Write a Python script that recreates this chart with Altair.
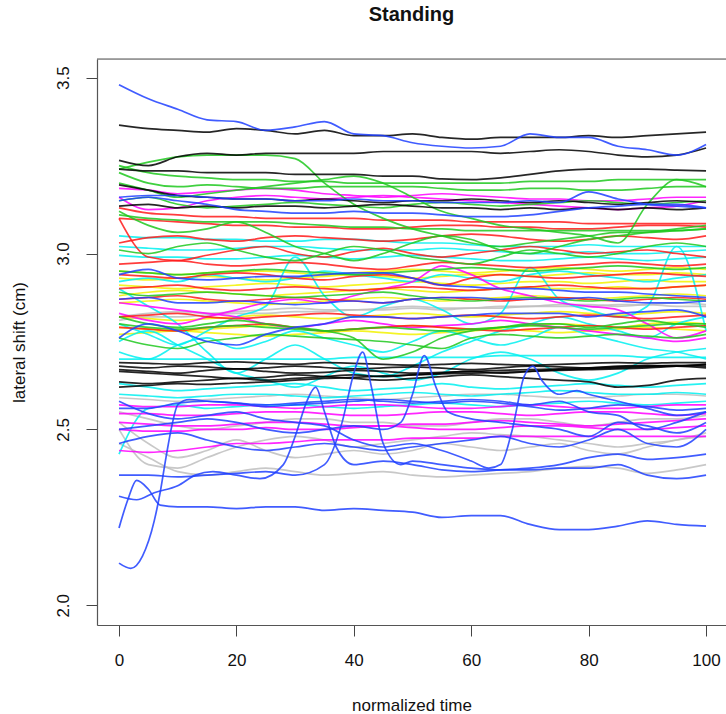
import altair as alt
import pandas as pd

# x positions (normalized time) shared by most traces
T_GRID = [0, 5, 10, 15, 20, 25, 30, 35, 40, 45, 50, 55, 60, 65, 70, 75, 80, 85, 90, 95, 100]

# ---- traces (lateral shift in cm), grouped by colour ----
GRAY = [
    [2.82, 2.83, 2.835, 2.83, 2.835, 2.84, 2.845, 2.84, 2.84, 2.845, 2.85, 2.845, 2.845, 2.85, 2.85, 2.855, 2.855, 2.85, 2.855, 2.86, 2.855],
    [2.81, 2.82, 2.82, 2.825, 2.83, 2.83, 2.835, 2.835, 2.84, 2.84, 2.845, 2.84, 2.845, 2.845, 2.85, 2.85, 2.85, 2.855, 2.855, 2.85, 2.85],
    [2.59, 2.585, 2.58, 2.585, 2.59, 2.595, 2.6, 2.595, 2.59, 2.585, 2.59, 2.595, 2.6, 2.6, 2.595, 2.59, 2.59, 2.595, 2.6, 2.6, 2.595],
    [2.50, 2.40, 2.39, 2.42, 2.45, 2.47, 2.48, 2.47, 2.45, 2.46, 2.47, 2.48, 2.49, 2.485, 2.48, 2.47, 2.46, 2.45, 2.46, 2.47, 2.49],
    [2.46, 2.42, 2.38, 2.37, 2.38, 2.39, 2.38, 2.37, 2.375, 2.38, 2.37, 2.365, 2.37, 2.375, 2.38, 2.39, 2.395, 2.39, 2.375, 2.385, 2.40],
    [2.55, 2.53, 2.51, 2.50, 2.51, 2.52, 2.53, 2.53, 2.52, 2.52, 2.51, 2.51, 2.52, 2.53, 2.53, 2.52, 2.51, 2.52, 2.53, 2.53, 2.54],
    [2.52, 2.46, 2.42, 2.44, 2.47, 2.44, 2.42, 2.43, 2.44, 2.43, 2.44, 2.46, 2.45, 2.44, 2.45, 2.46, 2.44, 2.43, 2.45, 2.47, 2.48],
]
YELLOW = [
    [2.95, 2.945, 2.94, 2.945, 2.95, 2.95, 2.945, 2.94, 2.945, 2.95, 2.955, 2.95, 2.945, 2.95, 2.955, 2.96, 2.955, 2.95, 2.955, 2.96, 2.955],
    [2.93, 2.925, 2.93, 2.935, 2.93, 2.925, 2.93, 2.935, 2.94, 2.935, 2.93, 2.935, 2.94, 2.94, 2.935, 2.94, 2.945, 2.94, 2.94, 2.945, 2.94],
    [2.91, 2.905, 2.90, 2.905, 2.91, 2.915, 2.91, 2.905, 2.91, 2.915, 2.92, 2.915, 2.91, 2.915, 2.92, 2.92, 2.915, 2.92, 2.925, 2.92, 2.92],
    [2.88, 2.89, 2.895, 2.89, 2.885, 2.88, 2.885, 2.89, 2.895, 2.90, 2.895, 2.89, 2.895, 2.90, 2.905, 2.90, 2.90, 2.905, 2.90, 2.905, 2.91],
    [2.86, 2.865, 2.87, 2.865, 2.86, 2.855, 2.86, 2.865, 2.87, 2.875, 2.87, 2.865, 2.87, 2.875, 2.88, 2.875, 2.87, 2.875, 2.88, 2.885, 2.88],
    [2.82, 2.815, 2.81, 2.815, 2.82, 2.825, 2.82, 2.815, 2.82, 2.825, 2.83, 2.825, 2.82, 2.825, 2.83, 2.835, 2.83, 2.825, 2.83, 2.835, 2.83],
    [2.79, 2.785, 2.78, 2.785, 2.79, 2.795, 2.79, 2.78, 2.785, 2.79, 2.795, 2.79, 2.785, 2.79, 2.795, 2.80, 2.795, 2.79, 2.80, 2.805, 2.80],
    [2.77, 2.775, 2.78, 2.775, 2.77, 2.765, 2.77, 2.775, 2.78, 2.775, 2.77, 2.775, 2.78, 2.785, 2.78, 2.775, 2.78, 2.785, 2.79, 2.785, 2.78],
]
CYAN = [
    [3.05, 3.045, 3.045, 3.04, 3.04, 3.035, 3.035, 3.04, 3.04, 3.035, 3.03, 3.03, 3.025, 3.02, 3.02, 3.02, 3.025, 3.02, 3.02, 3.02, 3.02],
    [3.02, 3.015, 3.01, 3.01, 3.015, 3.02, 3.02, 3.015, 3.01, 3.01, 3.01, 3.015, 3.01, 3.005, 3.0, 3.0, 3.005, 3.0, 3.0, 3.005, 3.01],
    [2.995, 2.99, 2.99, 2.985, 2.985, 2.99, 2.995, 2.99, 2.985, 2.99, 2.995, 2.99, 2.985, 2.98, 2.98, 2.985, 2.99, 2.985, 2.98, 2.985, 2.99],
    [2.80, 2.77, 2.74, 2.78, 2.82, 2.85, 2.99, 2.88, 2.82, 2.85, 2.87, 2.84, 2.80, 2.83, 2.96, 2.87, 2.84, 2.82, 2.85, 3.02, 2.78],
    [2.72, 2.70, 2.74, 2.76, 2.73, 2.75, 2.78, 2.76, 2.74, 2.72, 2.75, 2.78, 2.76, 2.74, 2.76, 2.79, 2.77, 2.75, 2.73, 2.72, 2.70],
    [2.70, 2.70, 2.70, 2.70, 2.70, 2.70, 2.70, 2.70, 2.705, 2.705, 2.705, 2.705, 2.705, 2.71, 2.71, 2.71, 2.71, 2.71, 2.705, 2.705, 2.705],
    [2.63, 2.62, 2.61, 2.615, 2.62, 2.625, 2.63, 2.62, 2.61, 2.615, 2.62, 2.63, 2.62, 2.615, 2.62, 2.625, 2.63, 2.625, 2.62, 2.625, 2.63],
    [2.60, 2.595, 2.59, 2.595, 2.6, 2.6, 2.595, 2.59, 2.595, 2.6, 2.605, 2.6, 2.595, 2.6, 2.605, 2.61, 2.605, 2.6, 2.6, 2.605, 2.60],
    [2.43, 2.56, 2.57, 2.56, 2.565, 2.57, 2.57, 2.565, 2.56, 2.565, 2.57, 2.575, 2.57, 2.565, 2.57, 2.575, 2.58, 2.575, 2.57, 2.575, 2.58],
    [2.90, 2.85, 2.80, 2.72, 2.66, 2.70, 2.74, 2.70, 2.66, 2.65, 2.68, 2.72, 2.75, 2.78, 2.80, 2.82, 2.80, 2.78, 2.76, 2.80, 2.82],
    [2.75, 2.78, 2.74, 2.70, 2.66, 2.64, 2.62, 2.65, 2.68, 2.66, 2.64, 2.66, 2.70, 2.72, 2.70, 2.66, 2.64, 2.66, 2.70, 2.72, 2.73],
    [2.92, 2.93, 2.92, 2.94, 2.93, 2.92, 2.93, 2.95, 2.94, 2.93, 2.92, 2.94, 2.93, 2.92, 2.94, 2.95, 2.94, 2.93, 2.92, 2.93, 2.94],
]
MAGENTA = [
    [3.185, 3.18, 3.17, 3.175, 3.18, 3.185, 3.18, 3.17, 3.165, 3.16, 3.165, 3.17, 3.165, 3.16, 3.155, 3.155, 3.15, 3.15, 3.155, 3.16, 3.16],
    [3.16, 3.125, 3.13, 3.15, 3.16, 3.165, 3.16, 3.155, 3.16, 3.165, 3.16, 3.155, 3.15, 3.145, 3.14, 3.135, 3.13, 3.125, 3.13, 3.135, 3.15],
    [2.83, 2.81, 2.80, 2.82, 2.84, 2.86, 2.87, 2.86, 2.88, 2.90, 2.92, 2.965, 2.94, 2.90, 2.88, 2.86, 2.85, 2.84, 2.80, 2.76, 2.78],
    [2.86, 2.85, 2.84, 2.83, 2.82, 2.80, 2.79, 2.80, 2.81, 2.80, 2.79, 2.795, 2.80, 2.81, 2.80, 2.79, 2.78, 2.77, 2.76, 2.75, 2.76],
    [2.57, 2.565, 2.565, 2.57, 2.57, 2.565, 2.56, 2.565, 2.57, 2.57, 2.565, 2.56, 2.56, 2.565, 2.57, 2.565, 2.56, 2.56, 2.565, 2.57, 2.57],
    [2.545, 2.545, 2.54, 2.54, 2.545, 2.55, 2.55, 2.545, 2.54, 2.54, 2.545, 2.55, 2.55, 2.545, 2.54, 2.545, 2.55, 2.55, 2.545, 2.54, 2.545],
    [2.52, 2.515, 2.51, 2.51, 2.515, 2.52, 2.52, 2.515, 2.51, 2.51, 2.515, 2.515, 2.52, 2.525, 2.52, 2.515, 2.51, 2.515, 2.52, 2.525, 2.53],
    [2.44, 2.435, 2.44, 2.45, 2.46, 2.46, 2.465, 2.47, 2.47, 2.47, 2.475, 2.475, 2.475, 2.48, 2.48, 2.48, 2.48, 2.48, 2.48, 2.48, 2.48],
    [2.50, 2.495, 2.495, 2.50, 2.50, 2.505, 2.50, 2.50, 2.505, 2.51, 2.505, 2.50, 2.50, 2.505, 2.51, 2.51, 2.505, 2.50, 2.50, 2.505, 2.51],
]
RED = [
    [3.13, 3.115, 3.11, 3.105, 3.105, 3.10, 3.10, 3.10, 3.10, 3.095, 3.095, 3.095, 3.09, 3.09, 3.09, 3.09, 3.085, 3.085, 3.085, 3.085, 3.085],
    [3.10, 3.095, 3.09, 3.085, 3.08, 3.08, 3.075, 3.075, 3.07, 3.07, 3.075, 3.08, 3.08, 3.075, 3.075, 3.07, 3.07, 3.075, 3.08, 3.08, 3.075],
    [3.03, 3.045, 3.05, 3.04, 3.035, 3.045, 3.05, 3.045, 3.04, 3.035, 3.04, 3.05, 3.055, 3.05, 3.04, 3.035, 3.04, 3.05, 3.045, 3.04, 3.05],
    [3.10, 2.99, 2.98, 2.995, 3.01, 3.02, 3.0, 2.99, 3.005, 3.015, 3.0, 2.99, 3.0, 3.01, 3.02, 3.01, 3.0, 3.005, 3.01, 3.0, 2.99],
    [2.97, 2.975, 2.98, 2.97, 2.965, 2.97, 2.975, 2.97, 2.96, 2.955, 2.965, 2.975, 2.97, 2.965, 2.96, 2.965, 2.97, 2.975, 2.97, 2.965, 2.97],
    [2.94, 2.935, 2.93, 2.94, 2.945, 2.94, 2.93, 2.925, 2.935, 2.94, 2.93, 2.91, 2.93, 2.94, 2.935, 2.93, 2.935, 2.94, 2.945, 2.94, 2.935],
    [2.90, 2.905, 2.91, 2.90, 2.895, 2.90, 2.905, 2.90, 2.895, 2.90, 2.905, 2.90, 2.895, 2.90, 2.905, 2.91, 2.905, 2.90, 2.90, 2.905, 2.91],
    [2.87, 2.875, 2.88, 2.87, 2.865, 2.87, 2.875, 2.87, 2.865, 2.86, 2.87, 2.875, 2.87, 2.865, 2.87, 2.875, 2.87, 2.865, 2.87, 2.875, 2.87],
    [2.82, 2.825, 2.83, 2.82, 2.815, 2.82, 2.825, 2.83, 2.825, 2.82, 2.815, 2.82, 2.825, 2.82, 2.815, 2.82, 2.825, 2.82, 2.815, 2.82, 2.825],
    [2.79, 2.785, 2.78, 2.79, 2.795, 2.80, 2.79, 2.78, 2.785, 2.79, 2.795, 2.79, 2.785, 2.78, 2.785, 2.79, 2.795, 2.79, 2.785, 2.79, 2.795],
]
GREEN = [
    [3.24, 3.26, 3.275, 3.28, 3.28, 3.28, 3.27, 3.20, 3.14, 3.10, 3.07, 3.05, 3.03, 3.02, 3.03, 3.04, 3.05, 3.06, 3.06, 3.065, 3.07],
    [3.25, 3.23, 3.22, 3.215, 3.21, 3.21, 3.205, 3.205, 3.20, 3.20, 3.20, 3.20, 3.20, 3.20, 3.205, 3.205, 3.205, 3.21, 3.21, 3.21, 3.21],
    [3.23, 3.20, 3.19, 3.195, 3.19, 3.185, 3.185, 3.19, 3.19, 3.19, 3.19, 3.185, 3.18, 3.18, 3.185, 3.185, 3.18, 3.18, 3.185, 3.19, 3.19],
    [3.20, 3.18, 3.16, 3.17, 3.18, 3.19, 3.20, 3.21, 3.22, 3.20, 3.16, 3.12, 3.10, 3.08, 3.07, 3.06, 3.05, 3.03, 3.14, 3.21, 3.19],
    [3.15, 3.16, 3.14, 3.13, 3.135, 3.14, 3.145, 3.14, 3.135, 3.13, 3.14, 3.145, 3.14, 3.135, 3.14, 3.145, 3.15, 3.145, 3.14, 3.145, 3.15],
    [3.11, 3.10, 3.095, 3.09, 3.09, 3.09, 3.085, 3.08, 3.075, 3.075, 3.07, 3.07, 3.065, 3.065, 3.065, 3.065, 3.065, 3.065, 3.065, 3.065, 3.07],
    [3.12, 3.08, 3.06, 3.07, 3.09, 3.06, 3.02, 3.0, 2.98, 3.0, 3.03, 3.05, 3.04, 3.01, 3.0, 3.02, 3.04, 3.05, 3.06, 3.07, 3.08],
    [3.01, 3.0, 3.02, 3.03, 3.01, 2.99, 2.98, 3.0, 3.02, 3.01, 2.99, 2.98, 2.97, 2.99, 3.01, 3.0, 2.99, 3.0, 3.02, 3.03, 3.02],
    [2.95, 2.945, 2.94, 2.945, 2.95, 2.955, 2.95, 2.945, 2.94, 2.945, 2.95, 2.955, 2.96, 2.955, 2.95, 2.955, 2.96, 2.965, 2.96, 2.955, 2.96],
    [2.89, 2.88, 2.885, 2.89, 2.885, 2.88, 2.875, 2.88, 2.885, 2.89, 2.88, 2.87, 2.865, 2.87, 2.875, 2.87, 2.865, 2.87, 2.875, 2.87, 2.865],
    [2.80, 2.79, 2.785, 2.79, 2.795, 2.79, 2.785, 2.78, 2.785, 2.79, 2.785, 2.78, 2.785, 2.79, 2.795, 2.79, 2.785, 2.79, 2.795, 2.80, 2.79],
    [2.76, 2.74, 2.73, 2.75, 2.76, 2.77, 2.765, 2.76, 2.755, 2.75, 2.74, 2.73, 2.76, 2.77, 2.765, 2.76, 2.765, 2.77, 2.765, 2.76, 2.77],
    [2.82, 2.80, 2.79, 2.80, 2.81, 2.80, 2.79, 2.78, 2.76, 2.70, 2.72, 2.76, 2.78, 2.79, 2.80, 2.80, 2.79, 2.80, 2.81, 2.80, 2.80],
]
BLACK = [
    [3.365, 3.355, 3.35, 3.345, 3.355, 3.35, 3.34, 3.35, 3.335, 3.335, 3.34, 3.33, 3.325, 3.33, 3.33, 3.33, 3.335, 3.33, 3.335, 3.34, 3.345],
    [3.265, 3.25, 3.275, 3.285, 3.28, 3.285, 3.285, 3.285, 3.285, 3.29, 3.29, 3.29, 3.29, 3.285, 3.29, 3.295, 3.29, 3.28, 3.275, 3.28, 3.30],
    [3.24, 3.235, 3.235, 3.23, 3.23, 3.23, 3.225, 3.225, 3.225, 3.22, 3.22, 3.212, 3.21, 3.215, 3.225, 3.235, 3.24, 3.24, 3.24, 3.237, 3.235],
    [3.195, 3.18, 3.165, 3.16, 3.155, 3.155, 3.15, 3.155, 3.15, 3.145, 3.15, 3.15, 3.155, 3.15, 3.145, 3.15, 3.145, 3.14, 3.145, 3.15, 3.145],
    [3.135, 3.14, 3.13, 3.135, 3.13, 3.135, 3.135, 3.13, 3.135, 3.14, 3.135, 3.13, 3.13, 3.125, 3.13, 3.125, 3.13, 3.125, 3.13, 3.125, 3.13],
    [2.69, 2.688, 2.685, 2.69, 2.692, 2.688, 2.685, 2.69, 2.688, 2.685, 2.683, 2.685, 2.688, 2.685, 2.683, 2.685, 2.688, 2.69, 2.688, 2.69, 2.69],
    [2.68, 2.675, 2.68, 2.678, 2.672, 2.675, 2.68, 2.676, 2.672, 2.675, 2.678, 2.674, 2.67, 2.675, 2.68, 2.678, 2.675, 2.68, 2.682, 2.68, 2.685],
    [2.67, 2.665, 2.66, 2.668, 2.672, 2.665, 2.66, 2.662, 2.668, 2.665, 2.66, 2.662, 2.665, 2.668, 2.67, 2.672, 2.675, 2.678, 2.68, 2.682, 2.68],
    [2.665, 2.66, 2.655, 2.65, 2.645, 2.648, 2.655, 2.65, 2.645, 2.64, 2.645, 2.65, 2.655, 2.65, 2.645, 2.64, 2.635, 2.62, 2.625, 2.64, 2.645],
    [2.635, 2.63, 2.635, 2.64, 2.645, 2.64, 2.645, 2.65, 2.655, 2.65, 2.655, 2.66, 2.665, 2.66, 2.665, 2.67, 2.672, 2.675, 2.678, 2.68, 2.675],
    [2.62, 2.625, 2.63, 2.628, 2.632, 2.635, 2.64, 2.645, 2.648, 2.652, 2.655, 2.658, 2.66, 2.662, 2.665, 2.668, 2.67, 2.672, 2.675, 2.68, 2.685],
]
BLUE = [
    [3.48, 3.44, 3.41, 3.38, 3.375, 3.35, 3.36, 3.375, 3.34, 3.335, 3.315, 3.305, 3.30, 3.305, 3.34, 3.33, 3.33, 3.305, 3.295, 3.28, 3.31],
    [3.16, 3.165, 3.165, 3.16, 3.155, 3.155, 3.15, 3.15, 3.155, 3.15, 3.15, 3.145, 3.145, 3.145, 3.15, 3.145, 3.175, 3.155, 3.14, 3.135, 3.13],
    [3.15, 3.16, 3.15, 3.14, 3.125, 3.12, 3.115, 3.115, 3.12, 3.115, 3.115, 3.11, 3.105, 3.105, 3.11, 3.12, 3.13, 3.135, 3.14, 3.14, 3.13],
    [2.94, 2.955, 2.93, 2.925, 2.93, 2.935, 2.935, 2.94, 2.945, 2.945, 2.93, 2.91, 2.905, 2.90, 2.90, 2.895, 2.89, 2.89, 2.885, 2.88, 2.875],
    [2.87, 2.875, 2.86, 2.86, 2.865, 2.86, 2.855, 2.86, 2.865, 2.86, 2.87, 2.875, 2.875, 2.87, 2.87, 2.87, 2.875, 2.865, 2.86, 2.86, 2.865],
    [2.76, 2.80, 2.78, 2.75, 2.74, 2.77, 2.79, 2.80, 2.82, 2.82, 2.815, 2.82, 2.825, 2.83, 2.83, 2.83, 2.82, 2.83, 2.835, 2.84, 2.82],
    [2.56, 2.56, 2.575, 2.58, 2.575, 2.57, 2.575, 2.58, 2.585, 2.58, 2.575, 2.58, 2.585, 2.58, 2.57, 2.58, 2.55, 2.54, 2.50, 2.52, 2.55],
    [2.46, 2.48, 2.49, 2.47, 2.45, 2.44, 2.45, 2.46, 2.45, 2.44, 2.45, 2.46, 2.47, 2.48, 2.46, 2.45, 2.47, 2.50, 2.46, 2.45, 2.50],
]
# wiggly blue traces in the lower part, each with its own time points
BLUE_LOW_T = [
    [0, 2, 4, 6, 7, 8, 9, 10, 12, 15, 20, 25, 30, 35, 40, 45, 50, 55, 60, 65, 70, 75, 80, 85, 90, 95, 100],
    [0, 1.5, 3, 5, 7, 10, 15, 20, 25, 30, 35, 40, 45, 50, 55, 60, 65, 70, 75, 80, 85, 90, 95, 100],
    [0, 3, 6, 10, 13, 16, 20, 24, 28, 30, 32, 33.5, 35, 37, 40, 45, 50, 55, 60, 65, 70, 75, 80, 85, 90, 95, 100],
    [0, 5, 10, 15, 20, 25, 30, 35, 38, 40, 41.5, 43, 45, 48, 50, 55, 60, 65, 70, 75, 80, 85, 90, 95, 100],
    [0, 5, 10, 15, 20, 25, 30, 35, 40, 45, 48, 50, 52, 54, 56, 60, 65, 70, 75, 80, 85, 90, 95, 100],
    [0, 5, 10, 15, 20, 25, 30, 35, 40, 45, 50, 55, 60, 63, 65, 67, 69, 70.5, 72, 75, 78, 80, 85, 90, 95, 100],
]
BLUE_LOW_V = [
    [2.12, 2.105, 2.14, 2.24, 2.32, 2.42, 2.51, 2.57, 2.585, 2.58, 2.575, 2.565, 2.57, 2.575, 2.58, 2.585, 2.58, 2.575, 2.58, 2.575, 2.565, 2.555, 2.56, 2.57, 2.565, 2.555, 2.56],
    [2.22, 2.30, 2.355, 2.33, 2.285, 2.28, 2.28, 2.275, 2.28, 2.28, 2.27, 2.275, 2.27, 2.265, 2.25, 2.255, 2.255, 2.23, 2.215, 2.215, 2.225, 2.24, 2.23, 2.225],
    [2.31, 2.30, 2.32, 2.34, 2.37, 2.38, 2.37, 2.36, 2.40, 2.48, 2.58, 2.62, 2.55, 2.45, 2.40, 2.41, 2.40, 2.385, 2.38, 2.385, 2.39, 2.40, 2.42, 2.43, 2.415, 2.42, 2.43],
    [2.37, 2.37, 2.365, 2.37, 2.375, 2.38, 2.37, 2.40, 2.52, 2.66, 2.72, 2.62, 2.46, 2.40, 2.41, 2.40, 2.39, 2.385, 2.385, 2.39, 2.39, 2.40, 2.37, 2.36, 2.37],
    [2.50, 2.51, 2.52, 2.53, 2.52, 2.50, 2.49, 2.50, 2.51, 2.50, 2.52, 2.60, 2.71, 2.62, 2.55, 2.53, 2.52, 2.51, 2.50, 2.48, 2.52, 2.51, 2.49, 2.52],
    [2.58, 2.545, 2.53, 2.54, 2.55, 2.53, 2.52, 2.51, 2.47, 2.45, 2.46, 2.44, 2.41, 2.39, 2.40, 2.50, 2.65, 2.68, 2.64, 2.60, 2.61, 2.60, 2.58, 2.56, 2.54, 2.55],
]

X_TICKS = [0, 20, 40, 60, 80, 100]
Y_TICKS = [2.0, 2.5, 3.0, 3.5]

COLORS = {
    "gray": "#BEBEBE", "yellow": "#F2F200", "cyan": "#00F0F0", "magenta": "#FF00FF",
    "red": "#FF1A1A", "green": "#1EC81E", "black": "#000000", "blue": "#1F3FFF",
}

rows = []
counter = [0]


def add(color, ts, vs, name):
    if len(ts) != len(vs):
        raise ValueError(f"length mismatch in {name}: {len(ts)} vs {len(vs)}")
    sid = f"s{counter[0]:03d}"
    counter[0] += 1
    for t, v in zip(ts, vs):
        rows.append({"t": t, "v": v, "id": sid, "col": COLORS[color]})


for name, group in [("gray", GRAY), ("yellow", YELLOW), ("cyan", CYAN), ("magenta", MAGENTA),
                    ("red", RED), ("green", GREEN), ("black", BLACK), ("blue", BLUE)]:
    for i, vs in enumerate(group):
        add(name, T_GRID, vs, f"{name}[{i}]")
for i, (ts, vs) in enumerate(zip(BLUE_LOW_T, BLUE_LOW_V)):
    add("blue", ts, vs, f"bluelow[{i}]")

df = pd.DataFrame(rows)

FONT = "Liberation Sans"
W, H = 629, 566

lines = alt.Chart(df).mark_line(
    strokeWidth=1.7, opacity=0.85, interpolate="monotone", clip=True
).encode(
    x=alt.X(
        "t:Q",
        scale=alt.Scale(domain=[-3.75, 103.4], nice=False, zero=False),
        axis=alt.Axis(
            values=X_TICKS, format="d", grid=False, tickSize=11, tickColor="#444",
            domainColor="#555", domainWidth=1.2, labelFontSize=17, labelFont=FONT,
            labelColor="#111", labelPadding=16, title="normalized time",
            titleFont=FONT, titleFontSize=17, titleFontWeight="normal", titleColor="#111",
            titleBaseline="middle", titleY=80, labelFlush=False,
        ),
    ),
    y=alt.Y(
        "v:Q",
        scale=alt.Scale(domain=[1.944, 3.553], nice=False, zero=False),
        axis=alt.Axis(
            values=Y_TICKS, format=".1f", grid=False, tickSize=11, tickColor="#444",
            domainColor="#555", domainWidth=1.2, labelFontSize=17, labelFont=FONT,
            labelColor="#111", labelAngle=270, labelAlign="center", labelBaseline="alphabetic",
            labelPadding=18, labelFlush=False, title="lateral shift (cm)",
            titleFont=FONT, titleFontSize=17, titleFontWeight="normal", titleColor="#111",
            titleAngle=270, titleAlign="center", titleBaseline="middle", titleX=-78, titleY=H / 2,
        ),
    ),
    color=alt.Color("col:N", scale=None),
    detail="id:N",
)

top_border = alt.Chart(pd.DataFrame({"a": [0]})).mark_rule(
    color="#555", strokeWidth=1.2
).encode(x=alt.value(0), x2=alt.value(W), y=alt.value(0))

chart = alt.layer(lines, top_border).properties(
    width=W,
    height=H,
    autosize="none",
    padding={"left": 97, "top": 59, "right": 0, "bottom": 89},
    title=alt.TitleParams(
        text="Standing", font=FONT, fontSize=20, fontWeight="bold", color="#111",
        anchor="middle", offset=33,
    ),
).configure_view(stroke=None).configure(background="white")

chart.save("out.html", embed_options={"renderer": "svg", "actions": False})
